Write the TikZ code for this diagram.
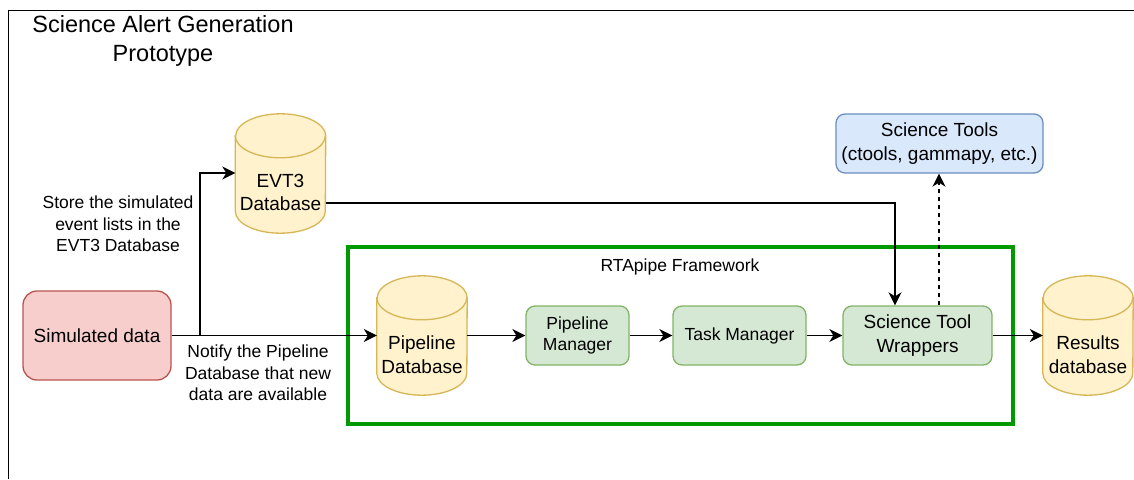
\documentclass[tikz,border=0pt]{standalone}
\usepackage{fontspec}
\setmainfont{Liberation Sans}
\usetikzlibrary{arrows.meta,backgrounds}
\definecolor{simfill}{HTML}{F8CECC}
\definecolor{simline}{HTML}{B85450}
\definecolor{dbfill}{HTML}{FFF2CC}
\definecolor{dbline}{HTML}{D6B656}
\definecolor{modfill}{HTML}{D5E8D4}
\definecolor{modline}{HTML}{82B366}
\definecolor{toolfill}{HTML}{DAE8FC}
\definecolor{toolline}{HTML}{6C8EBF}
\definecolor{rtagreen}{HTML}{009900}
\newcommand{\bigtxt}{\fontsize{19}{23.5}\selectfont}
\newcommand{\smalltxt}{\fontsize{17.5}{21.5}\selectfont}
\newcommand{\dbcyl}[1]{%
  \begin{scope}[on background layer]
    \filldraw[fill=dbfill,draw=dbline,line width=1.3pt]
      ([yshift=16pt]#1.north west) -- ([yshift=22pt]#1.south west)
      arc[start angle=180,end angle=360,x radius=45pt,y radius=22pt]
      -- ([yshift=16pt]#1.north east)
      arc[start angle=0,end angle=180,x radius=45pt,y radius=22pt] -- cycle;
    \draw[dbline,line width=1.3pt] ([yshift=16pt]#1.north west)
      arc[start angle=180,end angle=360,x radius=45pt,y radius=22pt];
  \end{scope}}

\begin{document}
\begin{tikzpicture}[x=1pt,y=1pt,
    every node/.style={inner sep=0pt,align=center},
    box/.style={rectangle,rounded corners=9pt,line width=1.3pt,font=\bigtxt},
    simbox/.style={box,fill=simfill,draw=simline,minimum width=148pt,minimum height=89pt,rounded corners=14pt},
    modbox/.style={box,fill=modfill,draw=modline,minimum height=59pt},
    toolbox/.style={box,fill=toolfill,draw=toolline,minimum width=207pt,minimum height=59pt},
    dbbody/.style={rectangle,minimum width=90pt,minimum height=81pt,font=\bigtxt},
    note/.style={font=\smalltxt},
    conn/.style={line width=1.5pt,-{Stealth[length=13pt,width=13pt,inset=4pt]}}]
  \useasboundingbox (0,0) rectangle (1134,-479);
  \draw[line width=1pt] (8,-479) -- (8,-10) -- (1134,-10);
  \node[font=\fontsize{23.5}{29}\selectfont] (title) at (163,-41) {Science Alert Generation\\Prototype};
  \draw[rtagreen,line width=4pt] (348,-247) rectangle (1013,-424);
  \node[note] (rta) at (680,-267) {RTApipe Framework};
  \node[simbox] (sim) at (97,-335.5) {Simulated data};
  \node[dbbody] (evt) at (280.5,-192.5) {EVT3\\Database};
  \node[dbbody] (pdb) at (422,-354.5) {Pipeline\\Database};
  \node[dbbody] (res) at (1088,-354.5) {Results\\database};
  \dbcyl{evt}
  \dbcyl{pdb}
  \dbcyl{res}
  \node[modbox,minimum width=103pt,font=\smalltxt] (pmgr) at (577.5,-335.5) {Pipeline\\Manager};
  \node[modbox,minimum width=133pt,font=\smalltxt] (task) at (739.5,-335.5) {Task Manager};
  \node[modbox,minimum width=149pt] (wrap) at (917.5,-335.5) {Science Tool\\Wrappers};
  \node[toolbox] (tools) at (939.5,-143.5) {Science Tools\\(ctools, gammapy, etc.)};
  \node[note] (store) at (118,-224) {Store the simulated\\event lists in the\\EVT3 Database};
  \node[note] (notify) at (258,-373) {Notify the Pipeline\\Database that new\\data are available};
  \coordinate (split) at (200,-335.5);
  \draw[conn] (sim.east) -- (pdb.west |- sim.east);
  \draw[conn] (split) |- ([yshift=19.5pt]evt.west);
  \draw[conn] ([yshift=-10.5pt]evt.east) -| ([xshift=-22.5pt]wrap.north);
  \draw[conn] (pdb.east |- pmgr.west) -- (pmgr.west);
  \draw[conn] (pmgr) -- (task);
  \draw[conn] (task) -- (wrap);
  \draw[conn] (wrap.east) -- (res.west |- wrap.east);
  \draw[conn,dash pattern=on 4pt off 4pt] ([xshift=21.5pt]wrap.north) -- ([xshift=21.5pt]wrap.north |- tools.south);
\end{tikzpicture}
\end{document}
